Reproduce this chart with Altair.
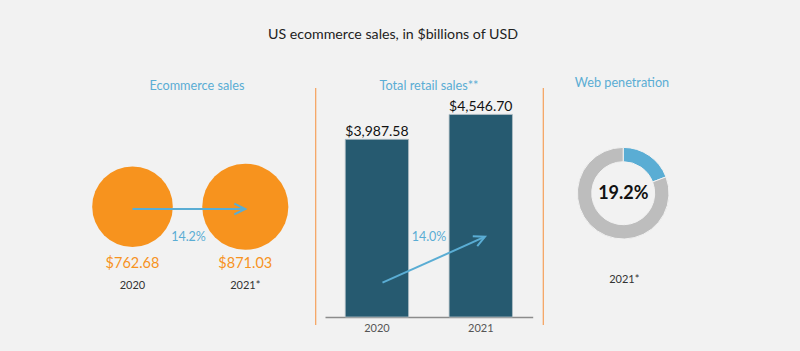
import altair as alt
import pandas as pd

# ---------------- data ----------------
chart_title = "US ecommerce sales, in $billions of USD"
panel_titles = ["Ecommerce sales", "Total retail sales**", "Web penetration"]

ecom_years = ["2020", "2021*"]
ecom_sales = [762.68, 871.03]
ecom_growth = ["14.2%"]

retail_years = ["2020", "2021"]
retail_sales = [3987.58, 4546.70]
retail_growth = ["14.0%"]

web_segments = ["Ecommerce", "Other retail"]
web_share = [19.2, 80.8]
web_label = ["19.2%"]
web_year = ["2021*"]

# ---------------- styles ----------------
BG = "#f2f2f2"
ORANGE = "#f7931e"
TEAL = "#265a70"
BLUE = "#5aadd4"
GRAY = "#bdbdbd"
SEP = "#f5a05a"
FONT = "Lato"

ecom_df = pd.DataFrame({"year": ecom_years, "sales": ecom_sales})
retail_df = pd.DataFrame({"year": retail_years, "sales": retail_sales})
web_df = pd.DataFrame({"segment": web_segments, "share": web_share, "idx": list(range(len(web_share)))})
arrow_left_df = pd.DataFrame({"start": [ecom_years[0]], "end": [ecom_years[1]], "growth": ecom_growth})
arrow_mid_df = pd.DataFrame({"growth": retail_growth})

x_left = alt.Scale(type="point", domain=ecom_years, range=[132.5, 245.3], padding=0)
size_left = alt.Scale(domain=[0, 1000], range=[0, 8520])
x_mid = alt.Scale(type="band", domain=retail_years, range=[325, 532.7],
                  paddingInner=0.39, paddingOuter=0.195)
y_mid = alt.Scale(domain=[0, 5000], range=[317, 94.2], nice=False, zero=True)


def label(text, x, y, size, color, weight="normal"):
    return alt.Chart(pd.DataFrame({"t": [text]})).mark_text(
        font=FONT, fontSize=size, color=color, fontWeight=weight,
        align="center", baseline="middle"
    ).encode(text="t:N", x=alt.value(x), y=alt.value(y))


layers = []

# title and panel titles
layers.append(label(chart_title, 393, 35, 14.2, "#222222"))
layers.append(label(panel_titles[0], 197, 86, 12.7, BLUE))
layers.append(label(panel_titles[1], 429, 86, 12.7, BLUE))
layers.append(label(panel_titles[2], 622, 83, 12.7, BLUE))

# separators
for sx in (315.7, 543.3):
    layers.append(
        alt.Chart(pd.DataFrame({"a": [0]})).mark_rule(color=SEP, strokeWidth=1.2).encode(
            x=alt.value(sx), y=alt.value(88), y2=alt.value(325)
        )
    )

# ---- left panel: circles ----
layers.append(
    alt.Chart(ecom_df).mark_circle(color=ORANGE, opacity=1).encode(
        x=alt.X("year:N", scale=x_left, axis=None),
        y=alt.value(206.7),
        size=alt.Size("sales:Q", scale=size_left, legend=None),
    )
)
layers.append(
    alt.Chart(ecom_df).mark_text(font=FONT, fontSize=14.5, color=ORANGE, baseline="middle").encode(
        x=alt.X("year:N", scale=x_left, axis=None),
        y=alt.value(264),
        text=alt.Text("sales:Q", format="$,.2f"),
    )
)
layers.append(
    alt.Chart(ecom_df).mark_text(font=FONT, fontSize=11, color="#333333", baseline="middle").encode(
        x=alt.X("year:N", scale=x_left, axis=None),
        y=alt.value(286),
        text="year:N",
    )
)
layers.append(
    alt.Chart(arrow_left_df).mark_rule(color=BLUE, strokeWidth=2).encode(
        x=alt.X("start:N", scale=x_left, axis=None),
        x2="end:N",
        y=alt.value(209),
    )
)
ARROW = "M-2,-1L0,0L-2,1"
layers.append(
    alt.Chart(arrow_left_df).mark_point(shape=ARROW, filled=False, color=BLUE, strokeWidth=2,
                                        size=120, opacity=1).encode(
        x=alt.X("end:N", scale=x_left, axis=None),
        y=alt.value(209),
    )
)
layers.append(
    alt.Chart(arrow_left_df).mark_text(font=FONT, fontSize=12.5, color=BLUE, baseline="middle").encode(
        text="growth:N", x=alt.value(188.5), y=alt.value(237)
    )
)

# ---- middle panel: bars ----
layers.append(
    alt.Chart(retail_df).mark_bar(color=TEAL, stroke="#b4c0c6", strokeWidth=0.8).encode(
        x=alt.X("year:N", scale=x_mid, axis=alt.Axis(
            title=None, orient="bottom", offset=-34, domainColor="#8c8c8c", domainWidth=1.5,
            ticks=False, grid=False, labelAngle=0, labelColor="#555555", labelFont=FONT,
            labelFontSize=11, labelPadding=5)),
        y=alt.Y("sales:Q", scale=y_mid, axis=None),
    )
)
layers.append(
    alt.Chart(retail_df).mark_text(font=FONT, fontSize=14, color="#111111", baseline="middle", dy=-7).encode(
        x=alt.X("year:N", scale=x_mid, axis=None),
        y=alt.Y("sales:Q", scale=y_mid, axis=None),
        text=alt.Text("sales:Q", format="$,.2f"),
    )
)
layers.append(
    alt.Chart(arrow_mid_df).mark_rule(color=BLUE, strokeWidth=2).encode(
        x=alt.value(382.5), y=alt.value(282.7), x2=alt.value(484), y2=alt.value(237.2)
    )
)
layers.append(
    alt.Chart(arrow_mid_df).mark_point(shape=ARROW, filled=False, color=BLUE, strokeWidth=2,
                                       size=120, opacity=1, angle=335.8).encode(
        x=alt.value(485), y=alt.value(236.7)
    )
)
layers.append(
    alt.Chart(arrow_mid_df).mark_text(font=FONT, fontSize=12.5, color=BLUE, baseline="middle").encode(
        text="growth:N", x=alt.value(429), y=alt.value(237)
    )
)

# ---- right panel: donut ----
layers.append(
    alt.Chart(web_df).mark_arc(innerRadius=31.5, outerRadius=45.8, stroke=BG, strokeWidth=1).encode(
        theta=alt.Theta("share:Q", stack=True),
        color=alt.Color("segment:N", scale=alt.Scale(domain=web_segments, range=[BLUE, GRAY]), legend=None),
        order=alt.Order("idx:Q"),
        x=alt.value(623.2),
        y=alt.value(193.2),
    )
)
layers.append(label(web_label[0], 623.3, 194.3, 18, "#111111", "bold"))
layers.append(label(web_year[0], 624.3, 280, 11, "#333333"))

chart = alt.layer(*layers).resolve_scale(
    x="independent", y="independent", size="independent", color="independent", theta="independent"
).properties(
    width=800, height=351, autosize=alt.AutoSizeParams(type="none"), padding=0
).configure(background=BG).configure_view(stroke=None)

chart.save("out.html", embed_options={"renderer": "svg", "actions": False})
